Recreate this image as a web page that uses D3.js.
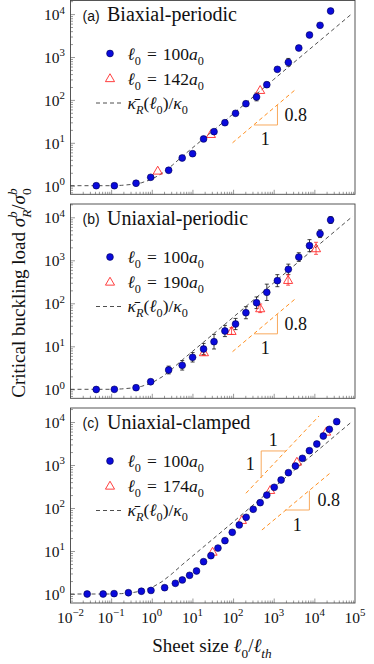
<!DOCTYPE html>
<html>
<head>
<meta charset="utf-8">
<script src="https://cdn.jsdelivr.net/npm/d3@7"></script>
<style>
  body { margin: 0; background: #fff; }
  svg { display: block; }
</style>
</head>
<body>
<div id="chart"></div>
<script>
// ---- data ----
// sheet sizes l0/lth used by panels (a) and (b)
const xPeriodic = [0.043, 0.12, 0.41, 0.94, 2.6, 5.6, 10.1, 18.8, 34, 63, 115, 207, 378, 676, 1230, 2290, 4140, 7590, 13800, 25100];

// (a) biaxial-periodic
const aBlue    = [1.0, 1.0, 1.14, 1.57, 2.29, 4.42, 5.57, 12.3, 18.2, 29.4, 48.7, 81.5, 117, 226, 516, 752, 1620, 3260, 5480, 11800];
const aBlueErr = [0, 0, 0, 0, 0, 0, 0, 0, 0, 0, 0.04, 0, 0.09, 0.06, 0, 0.09, 0, 0, 0, 0];   // half width, decades
const aRedX    = [1.4, 28.5, 465];
const aRed     = [2.24, 16.0, 170];
const aRedErr  = [0, 0, 0];

// (b) uniaxial-periodic
const bBlue    = [0.99, 1.0, 1.09, 1.5, 2.81, 3.61, 5.55, 8.65, 12.8, 22.7, 33.0, 60.4, 103, 180, 336, 618, 1190, 2190, 4160, 8650];
const bBlueErr = [0, 0, 0, 0, 0.09, 0.11, 0.11, 0.13, 0.17, 0.13, 0.13, 0.14, 0.135, 0.19, 0.14, 0.12, 0.1, 0.14, 0.09, 0.08];
const bRedX    = [19.2, 91.8, 465, 2260, 11000];
const bRed     = [7.25, 22.7, 76.5, 348, 1900];
const bRedErr  = [0.07, 0.08, 0.1, 0.12, 0.14];

// (c) uniaxial-clamped
const cBlueX = [0.0257, 0.0635, 0.118, 0.266, 0.555, 0.955, 2.07, 3.8, 5.64, 8.51, 12.6, 18.8, 28.5, 42.5, 63.1, 95.5, 142, 210, 313, 465, 676, 1030, 1520, 2300, 3420, 5080, 7550, 11500, 16600, 23400, 35500];
const cBlue  = [1.0, 1.0, 1.02, 1.07, 1.16, 1.21, 1.4, 1.77, 2.12, 2.72, 3.43, 5.64, 7.78, 11.7, 17.4, 27.2, 40.3, 60.8, 93.3, 133, 200, 303, 448, 662, 948, 1430, 2150, 3080, 4720, 6760, 10200];
const cRedX  = [31.3, 165, 819, 3720, 19500];
const cRed   = [9.6, 52.6, 262, 1190, 5950];

// kappa_R(l0)/kappa_0 curve (same in all panels)
const curveX = [0.01, 0.1, 0.18, 0.32, 0.56, 1, 1.8, 3.2, 5.6, 10, 32, 100, 1000, 10000, 87000];
const curveY = [1, 1, 1.02, 1.07, 1.17, 1.41, 1.95, 3.0, 4.8, 7.6, 19, 47, 300, 1880, 10500];

// slope guides
const aGuideX = [97, 3500],  aGuideY = [10.0, 177];
const aTriX = [331, 1236, 1236], aTriY = [26, 26, 76];
const bGuideX = [97, 3500],  bGuideY = [7.5, 130];
const bTriX = [331, 1236, 1236], bTriY = [19.5, 19.5, 56];
const cGuide1X = [207, 13000], cGuide1Y = [220, 13800];
const cTri1X = [492, 492, 2020], cTri1Y = [499, 2120, 2120];
const cGuide8X = [512, 26800], cGuide8Y = [30.8, 698];
const cTri8X = [1910, 7550, 7550], cTri8Y = [89.8, 89.8, 252];

const xMajor = [1e-2, 1e-1, 1e0, 1e1, 1e2, 1e3, 1e4, 1e5];
const xExp = ["\u22122", "\u22121", "0", "1", "2", "3", "4", "5"];
const yMajor = [1, 10, 100, 1000, 10000];
const yExp = ["0", "1", "2", "3", "4"];

// ---- layout ----
const W = 374, H = 664;
const left = 70.5, right = 355;
const serif = "'Liberation Serif', 'Times New Roman', serif";
const sans = "'Liberation Sans', Arial, sans-serif";
const blue = "#0a0adc", red = "#ff2a2a", orange = "#ff9020";

const svg = d3.select("#chart").append("svg")
  .attr("width", W).attr("height", H);

const x = d3.scaleLog().domain([1e-2, 1e5]).range([left, right]);

// text with sub/superscripts
function rich(g, px, py, parts, fs, anchor) {
  const t = g.append("text")
    .attr("x", px).attr("y", py)
    .attr("font-size", fs)
    .attr("font-family", serif)
    .attr("text-anchor", anchor || "start")
    .attr("fill", "#111");
  let shift = 0;
  parts.forEach(p => {
    const s = t.append("tspan").text(p.t);
    const target = p.sub ? fs * 0.3 : p.sup ? -fs * 0.42 : 0;
    s.attr("dy", target - shift);
    shift = target;
    if (p.sub || p.sup) s.attr("font-size", fs * 0.7);
    if (p.i) s.attr("font-style", "italic");
    if (p.dx) s.attr("dx", p.dx);
  });
  return t;
}

function minorTicks(lo, hi) {
  const out = [];
  for (let p = -3; p <= 5; p++) {
    for (let k = 2; k <= 9; k++) {
      const v = k * Math.pow(10, p);
      if (v > lo && v < hi) out.push(v);
    }
  }
  return out;
}

function legendSize(n) {
  return [{ t: "\u2113", i: true }, { t: "0", sub: true }, { t: "=", dx: 6 }, { t: n, dx: 6 }, { t: "a", i: true }, { t: "0", sub: true }];
}

function panel(cfg) {
  const g = svg.append("g");
  const y = d3.scaleLog().domain([1, 1e4]).range([cfg.y0, cfg.y0 - 4 * cfg.dec]);

  // ticks (inside)
  const yLo = y.invert(cfg.bottom), yHi = y.invert(cfg.top);
  const axL = g.append("g").attr("transform", "translate(" + left + ",0)");
  axL.append("g").call(d3.axisLeft(y).tickValues(yMajor).tickSize(-4.5).tickFormat(""));
  axL.append("g").call(d3.axisLeft(y).tickValues(minorTicks(yLo, yHi)).tickSize(-2.5).tickFormat(""));
  const axB = g.append("g").attr("transform", "translate(0," + cfg.bottom + ")");
  axB.append("g").call(d3.axisBottom(x).tickValues(xMajor.slice(1, -1)).tickSize(-4.5).tickFormat(""));
  axB.append("g").call(d3.axisBottom(x).tickValues(minorTicks(1e-2, 1e5)).tickSize(-2.5).tickFormat(""));
  g.selectAll(".domain").remove();
  g.selectAll(".tick line").attr("stroke", "#555").attr("stroke-width", 0.6);

  // frame
  g.append("rect")
    .attr("x", left).attr("y", cfg.top)
    .attr("width", right - left).attr("height", cfg.bottom - cfg.top)
    .attr("fill", "none").attr("stroke", "#444").attr("stroke-width", 0.9);

  // y tick labels
  yMajor.forEach((v, i) => {
    rich(g, 65, y(v) + 6, [{ t: "10" }, { t: yExp[i], sup: true }], 15.5, "end");
  });

  // theory curve
  g.append("path")
    .datum(d3.range(curveX.length))
    .attr("fill", "none").attr("stroke", "#222")
    .attr("stroke-width", 0.8).attr("stroke-dasharray", "4,3")
    .attr("d", d3.line().x(i => x(curveX[i])).y(i => y(curveY[i])));

  // slope guides
  cfg.guides.forEach(gd => {
    g.append("path")
      .datum(d3.range(gd.lx.length))
      .attr("fill", "none").attr("stroke", orange)
      .attr("stroke-width", 1).attr("stroke-dasharray", "4,3")
      .attr("d", d3.line().x(i => x(gd.lx[i])).y(i => y(gd.ly[i])));
    g.append("path")
      .datum(d3.range(gd.tx.length))
      .attr("fill", "none").attr("stroke", "#f7a04c").attr("stroke-width", 0.9)
      .attr("d", d3.line().x(i => x(gd.tx[i])).y(i => y(gd.ty[i])));
    gd.labels.forEach(lb => {
      g.append("text")
        .attr("x", x(gd.tx[lb.at]) + lb.dx).attr("y", y(gd.ty[lb.at]) + lb.dy)
        .attr("text-anchor", lb.anchor || "middle")
        .attr("font-family", serif).attr("font-size", 18).attr("fill", "#111")
        .text(lb.t);
    });
  });

  // error bars
  function errBars(xs, ys, es, color) {
    xs.forEach((xv, i) => {
      const e = es ? es[i] : 0;
      if (!e) return;
      const y1 = y(ys[i] * Math.pow(10, -e)), y2 = y(ys[i] * Math.pow(10, e)), cx = x(xv);
      g.append("line").attr("x1", cx).attr("x2", cx).attr("y1", y1).attr("y2", y2)
        .attr("stroke", color).attr("stroke-width", 0.8);
      [y1, y2].forEach(yy => g.append("line")
        .attr("x1", cx - 2).attr("x2", cx + 2).attr("y1", yy).attr("y2", yy)
        .attr("stroke", color).attr("stroke-width", 0.8));
    });
  }
  errBars(cfg.bx, cfg.by, cfg.be, "#111");
  errBars(cfg.rx, cfg.ry, cfg.re, red);

  const tri = d3.symbol().type(d3.symbolTriangle).size(36);
  g.selectAll(".red").data(d3.range(cfg.rx.length)).enter()
    .append("path")
    .attr("d", tri)
    .attr("transform", i => "translate(" + x(cfg.rx[i]) + "," + (y(cfg.ry[i]) + 0.8) + ")")
    .attr("fill", "none").attr("stroke", red).attr("stroke-width", 0.9);

  g.selectAll(".blue").data(d3.range(cfg.bx.length)).enter()
    .append("circle")
    .attr("cx", i => x(cfg.bx[i]))
    .attr("cy", i => y(cfg.by[i]))
    .attr("r", 3.4)
    .attr("fill", blue).attr("stroke", "#000050").attr("stroke-width", 0.6);

  // title
  g.append("text")
    .attr("x", 82.5).attr("y", cfg.top + 20)
    .attr("font-family", sans).attr("font-size", 14).attr("fill", "#111")
    .text(cfg.letter);
  g.append("text")
    .attr("x", 107).attr("y", cfg.top + 20.5)
    .attr("font-family", serif).attr("font-size", 20).attr("fill", "#111")
    .text(cfg.title);

  // legend
  const ly = cfg.top + 53;
  g.append("circle").attr("cx", 110).attr("cy", ly).attr("r", 3.4)
    .attr("fill", blue).attr("stroke", "#000050").attr("stroke-width", 0.6);
  rich(g, 127.5, ly + 6, legendSize("100"), 17.5);
  g.append("path").attr("d", tri)
    .attr("transform", "translate(110," + (ly + 25.5) + ")")
    .attr("fill", "none").attr("stroke", red).attr("stroke-width", 0.9);
  rich(g, 127.5, ly + 31, legendSize(cfg.redSize), 17.5);
  g.append("line").attr("x1", 96).attr("x2", 123).attr("y1", ly + 49.5).attr("y2", ly + 49.5)
    .attr("stroke", "#222").attr("stroke-width", 0.8).attr("stroke-dasharray", "4,3");
  rich(g, 127.5, ly + 55, [{ t: "\u03ba\u0304", i: true }, { t: "R", sub: true, i: true }, { t: "(" }, { t: "\u2113", i: true }, { t: "0", sub: true }, { t: ")/" }, { t: "\u03ba", i: true }, { t: "0", sub: true }], 17.5);

  return y;
}

panel({
  top: 0.5, bottom: 194.3, y0: 185.7, dec: 42.9,
  letter: "(a)", title: "Biaxial-periodic", redSize: "142",
  bx: xPeriodic, by: aBlue, be: aBlueErr, rx: aRedX, ry: aRed, re: aRedErr,
  guides: [{ lx: aGuideX, ly: aGuideY, tx: aTriX, ty: aTriY,
    labels: [{ t: "0.8", at: 1, dx: 7, dy: -4, anchor: "start" }, { t: "1", at: 0, dx: 11, dy: 20 }] }]
});

panel({
  top: 204, bottom: 398.3, y0: 389.3, dec: 43,
  letter: "(b)", title: "Uniaxial-periodic", redSize: "190",
  bx: xPeriodic, by: bBlue, be: bBlueErr, rx: bRedX, ry: bRed, re: bRedErr,
  guides: [{ lx: bGuideX, ly: bGuideY, tx: bTriX, ty: bTriY,
    labels: [{ t: "0.8", at: 1, dx: 7, dy: -4, anchor: "start" }, { t: "1", at: 0, dx: 11, dy: 20 }] }]
});

panel({
  top: 408, bottom: 603, y0: 594, dec: 43,
  letter: "(c)", title: "Uniaxial-clamped", redSize: "174",
  bx: cBlueX, by: cBlue, be: null, rx: cRedX, ry: cRed, re: null,
  guides: [
    { lx: cGuide1X, ly: cGuide1Y, tx: cTri1X, ty: cTri1Y,
      labels: [{ t: "1", at: 1, dx: 12, dy: -5 }, { t: "1", at: 0, dx: -11, dy: -8 }] },
    { lx: cGuide8X, ly: cGuide8Y, tx: cTri8X, ty: cTri8Y,
      labels: [{ t: "0.8", at: 1, dx: 8, dy: -4, anchor: "start" }, { t: "1", at: 0, dx: 12, dy: 21 }] }
  ]
});

// x tick labels (bottom panel only)
xMajor.forEach((v, i) => {
  rich(svg, x(v), 623, [{ t: "10" }, { t: xExp[i], sup: true }], 15.5, "middle");
});

// axis titles
rich(svg, 212, 652, [{ t: "Sheet size " }, { t: "\u2113", i: true }, { t: "0", sub: true }, { t: "/" }, { t: "\u2113", i: true }, { t: "th", sub: true, i: true }], 19, "middle");

const yt = svg.append("g").attr("transform", "translate(25,293) rotate(-90)");
rich(yt, 0, 0, [
  { t: "Critical buckling load " }, { t: "\u03c3", i: true },
  { t: "b", sup: true, i: true }, { t: "R", sub: true, i: true, dx: -6.5 },
  { t: "/" }, { t: "\u03c3", i: true },
  { t: "b", sup: true, i: true }, { t: "0", sub: true, dx: -6.5 }
], 19, "middle");
</script>
</body>
</html>
